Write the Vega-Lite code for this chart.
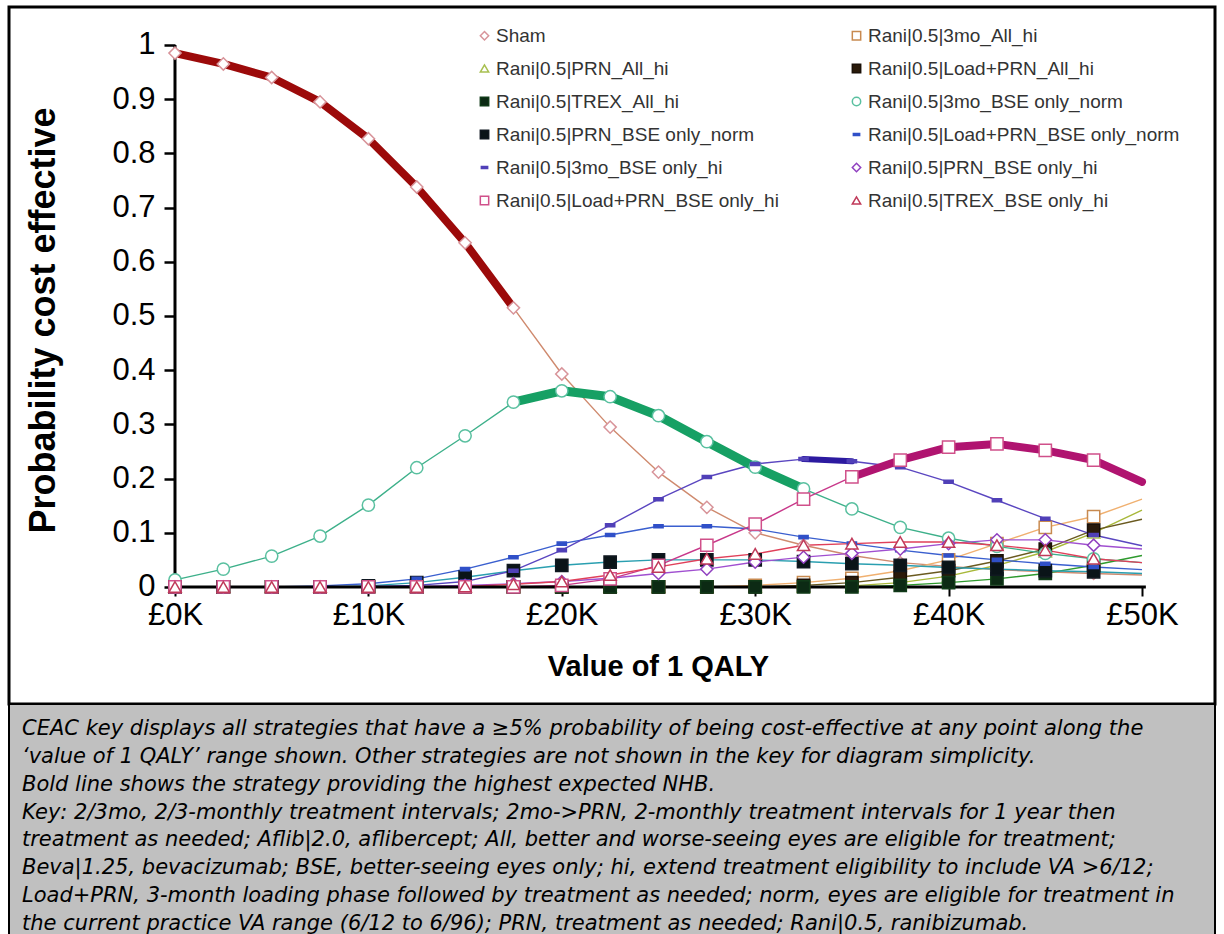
{
"$schema": "https://vega.github.io/schema/vega-lite/v6.json",
"padding": {"left": 7, "top": 5, "right": 0, "bottom": 0},
"background": "white",
"spacing": 0,
"bounds": "flush",
"config": {
  "font": "Liberation Sans",
  "axis": {"grid": false, "domain": false, "labelFont": "Liberation Sans", "titleFont": "Liberation Sans", "labelColor": "black", "titleColor": "black", "tickColor": "black", "labelFlush": false, "labelOverlap": false, "zindex": 2},
  "legend": {"zindex": 2}
},
"datasets": {
"ceac": [
{"s":"Sham","x":0,"p":0.985},{"s":"Sham","x":2500,"p":0.965},{"s":"Sham","x":5000,"p":0.94},{"s":"Sham","x":7500,"p":0.895},{"s":"Sham","x":10000,"p":0.827},{"s":"Sham","x":12500,"p":0.738},{"s":"Sham","x":15000,"p":0.635},{"s":"Sham","x":17500,"p":0.515},{"s":"Sham","x":20000,"p":0.393},{"s":"Sham","x":22500,"p":0.295},{"s":"Sham","x":25000,"p":0.212},{"s":"Sham","x":27500,"p":0.147},{"s":"Sham","x":30000,"p":0.1},{"s":"Sham","x":32500,"p":0.077},{"s":"Sham","x":35000,"p":0.058},{"s":"Sham","x":37500,"p":0.045},{"s":"Sham","x":40000,"p":0.038},{"s":"Sham","x":42500,"p":0.032},{"s":"Sham","x":45000,"p":0.028},{"s":"Sham","x":47500,"p":0.025},{"s":"Sham","x":50000,"p":0.022},
{"s":"Rani|0.5|3mo_All_hi","x":0,"p":0},{"s":"Rani|0.5|3mo_All_hi","x":2500,"p":0},{"s":"Rani|0.5|3mo_All_hi","x":5000,"p":0},{"s":"Rani|0.5|3mo_All_hi","x":7500,"p":0},{"s":"Rani|0.5|3mo_All_hi","x":10000,"p":0},{"s":"Rani|0.5|3mo_All_hi","x":12500,"p":0},{"s":"Rani|0.5|3mo_All_hi","x":15000,"p":0},{"s":"Rani|0.5|3mo_All_hi","x":17500,"p":0},{"s":"Rani|0.5|3mo_All_hi","x":20000,"p":0},{"s":"Rani|0.5|3mo_All_hi","x":22500,"p":0},{"s":"Rani|0.5|3mo_All_hi","x":25000,"p":0},{"s":"Rani|0.5|3mo_All_hi","x":27500,"p":0},{"s":"Rani|0.5|3mo_All_hi","x":30000,"p":0.003},{"s":"Rani|0.5|3mo_All_hi","x":32500,"p":0.008},{"s":"Rani|0.5|3mo_All_hi","x":35000,"p":0.016},{"s":"Rani|0.5|3mo_All_hi","x":37500,"p":0.03},{"s":"Rani|0.5|3mo_All_hi","x":40000,"p":0.05},{"s":"Rani|0.5|3mo_All_hi","x":42500,"p":0.08},{"s":"Rani|0.5|3mo_All_hi","x":45000,"p":0.11},{"s":"Rani|0.5|3mo_All_hi","x":47500,"p":0.13},{"s":"Rani|0.5|3mo_All_hi","x":50000,"p":0.162},
{"s":"Rani|0.5|PRN_All_hi","x":0,"p":0},{"s":"Rani|0.5|PRN_All_hi","x":2500,"p":0},{"s":"Rani|0.5|PRN_All_hi","x":5000,"p":0},{"s":"Rani|0.5|PRN_All_hi","x":7500,"p":0},{"s":"Rani|0.5|PRN_All_hi","x":10000,"p":0},{"s":"Rani|0.5|PRN_All_hi","x":12500,"p":0},{"s":"Rani|0.5|PRN_All_hi","x":15000,"p":0},{"s":"Rani|0.5|PRN_All_hi","x":17500,"p":0},{"s":"Rani|0.5|PRN_All_hi","x":20000,"p":0},{"s":"Rani|0.5|PRN_All_hi","x":22500,"p":0},{"s":"Rani|0.5|PRN_All_hi","x":25000,"p":0},{"s":"Rani|0.5|PRN_All_hi","x":27500,"p":0},{"s":"Rani|0.5|PRN_All_hi","x":30000,"p":0},{"s":"Rani|0.5|PRN_All_hi","x":32500,"p":0},{"s":"Rani|0.5|PRN_All_hi","x":35000,"p":0.002},{"s":"Rani|0.5|PRN_All_hi","x":37500,"p":0.008},{"s":"Rani|0.5|PRN_All_hi","x":40000,"p":0.02},{"s":"Rani|0.5|PRN_All_hi","x":42500,"p":0.04},{"s":"Rani|0.5|PRN_All_hi","x":45000,"p":0.065},{"s":"Rani|0.5|PRN_All_hi","x":47500,"p":0.1},{"s":"Rani|0.5|PRN_All_hi","x":50000,"p":0.142},
{"s":"Rani|0.5|Load+PRN_All_hi","x":0,"p":0},{"s":"Rani|0.5|Load+PRN_All_hi","x":2500,"p":0},{"s":"Rani|0.5|Load+PRN_All_hi","x":5000,"p":0},{"s":"Rani|0.5|Load+PRN_All_hi","x":7500,"p":0},{"s":"Rani|0.5|Load+PRN_All_hi","x":10000,"p":0},{"s":"Rani|0.5|Load+PRN_All_hi","x":12500,"p":0},{"s":"Rani|0.5|Load+PRN_All_hi","x":15000,"p":0},{"s":"Rani|0.5|Load+PRN_All_hi","x":17500,"p":0},{"s":"Rani|0.5|Load+PRN_All_hi","x":20000,"p":0},{"s":"Rani|0.5|Load+PRN_All_hi","x":22500,"p":0},{"s":"Rani|0.5|Load+PRN_All_hi","x":25000,"p":0},{"s":"Rani|0.5|Load+PRN_All_hi","x":27500,"p":0},{"s":"Rani|0.5|Load+PRN_All_hi","x":30000,"p":0},{"s":"Rani|0.5|Load+PRN_All_hi","x":32500,"p":0.003},{"s":"Rani|0.5|Load+PRN_All_hi","x":35000,"p":0.008},{"s":"Rani|0.5|Load+PRN_All_hi","x":37500,"p":0.018},{"s":"Rani|0.5|Load+PRN_All_hi","x":40000,"p":0.03},{"s":"Rani|0.5|Load+PRN_All_hi","x":42500,"p":0.048},{"s":"Rani|0.5|Load+PRN_All_hi","x":45000,"p":0.07},{"s":"Rani|0.5|Load+PRN_All_hi","x":47500,"p":0.105},{"s":"Rani|0.5|Load+PRN_All_hi","x":50000,"p":0.125},
{"s":"Rani|0.5|TREX_All_hi","x":0,"p":0},{"s":"Rani|0.5|TREX_All_hi","x":2500,"p":0},{"s":"Rani|0.5|TREX_All_hi","x":5000,"p":0},{"s":"Rani|0.5|TREX_All_hi","x":7500,"p":0},{"s":"Rani|0.5|TREX_All_hi","x":10000,"p":0},{"s":"Rani|0.5|TREX_All_hi","x":12500,"p":0},{"s":"Rani|0.5|TREX_All_hi","x":15000,"p":0},{"s":"Rani|0.5|TREX_All_hi","x":17500,"p":0},{"s":"Rani|0.5|TREX_All_hi","x":20000,"p":0},{"s":"Rani|0.5|TREX_All_hi","x":22500,"p":0},{"s":"Rani|0.5|TREX_All_hi","x":25000,"p":0},{"s":"Rani|0.5|TREX_All_hi","x":27500,"p":0},{"s":"Rani|0.5|TREX_All_hi","x":30000,"p":0},{"s":"Rani|0.5|TREX_All_hi","x":32500,"p":0},{"s":"Rani|0.5|TREX_All_hi","x":35000,"p":0},{"s":"Rani|0.5|TREX_All_hi","x":37500,"p":0.003},{"s":"Rani|0.5|TREX_All_hi","x":40000,"p":0.008},{"s":"Rani|0.5|TREX_All_hi","x":42500,"p":0.015},{"s":"Rani|0.5|TREX_All_hi","x":45000,"p":0.025},{"s":"Rani|0.5|TREX_All_hi","x":47500,"p":0.04},{"s":"Rani|0.5|TREX_All_hi","x":50000,"p":0.058},
{"s":"Rani|0.5|3mo_BSE only_norm","x":0,"p":0.013},{"s":"Rani|0.5|3mo_BSE only_norm","x":2500,"p":0.033},{"s":"Rani|0.5|3mo_BSE only_norm","x":5000,"p":0.057},{"s":"Rani|0.5|3mo_BSE only_norm","x":7500,"p":0.094},{"s":"Rani|0.5|3mo_BSE only_norm","x":10000,"p":0.151},{"s":"Rani|0.5|3mo_BSE only_norm","x":12500,"p":0.22},{"s":"Rani|0.5|3mo_BSE only_norm","x":15000,"p":0.279},{"s":"Rani|0.5|3mo_BSE only_norm","x":17500,"p":0.341},{"s":"Rani|0.5|3mo_BSE only_norm","x":20000,"p":0.362},{"s":"Rani|0.5|3mo_BSE only_norm","x":22500,"p":0.351},{"s":"Rani|0.5|3mo_BSE only_norm","x":25000,"p":0.316},{"s":"Rani|0.5|3mo_BSE only_norm","x":27500,"p":0.268},{"s":"Rani|0.5|3mo_BSE only_norm","x":30000,"p":0.221},{"s":"Rani|0.5|3mo_BSE only_norm","x":32500,"p":0.181},{"s":"Rani|0.5|3mo_BSE only_norm","x":35000,"p":0.144},{"s":"Rani|0.5|3mo_BSE only_norm","x":37500,"p":0.11},{"s":"Rani|0.5|3mo_BSE only_norm","x":40000,"p":0.09},{"s":"Rani|0.5|3mo_BSE only_norm","x":42500,"p":0.075},{"s":"Rani|0.5|3mo_BSE only_norm","x":45000,"p":0.062},{"s":"Rani|0.5|3mo_BSE only_norm","x":47500,"p":0.052},{"s":"Rani|0.5|3mo_BSE only_norm","x":50000,"p":0.045},
{"s":"Rani|0.5|PRN_BSE only_norm","x":0,"p":0},{"s":"Rani|0.5|PRN_BSE only_norm","x":2500,"p":0},{"s":"Rani|0.5|PRN_BSE only_norm","x":5000,"p":0},{"s":"Rani|0.5|PRN_BSE only_norm","x":7500,"p":0},{"s":"Rani|0.5|PRN_BSE only_norm","x":10000,"p":0.002},{"s":"Rani|0.5|PRN_BSE only_norm","x":12500,"p":0.008},{"s":"Rani|0.5|PRN_BSE only_norm","x":15000,"p":0.018},{"s":"Rani|0.5|PRN_BSE only_norm","x":17500,"p":0.03},{"s":"Rani|0.5|PRN_BSE only_norm","x":20000,"p":0.04},{"s":"Rani|0.5|PRN_BSE only_norm","x":22500,"p":0.046},{"s":"Rani|0.5|PRN_BSE only_norm","x":25000,"p":0.05},{"s":"Rani|0.5|PRN_BSE only_norm","x":27500,"p":0.05},{"s":"Rani|0.5|PRN_BSE only_norm","x":30000,"p":0.05},{"s":"Rani|0.5|PRN_BSE only_norm","x":32500,"p":0.047},{"s":"Rani|0.5|PRN_BSE only_norm","x":35000,"p":0.043},{"s":"Rani|0.5|PRN_BSE only_norm","x":37500,"p":0.04},{"s":"Rani|0.5|PRN_BSE only_norm","x":40000,"p":0.036},{"s":"Rani|0.5|PRN_BSE only_norm","x":42500,"p":0.033},{"s":"Rani|0.5|PRN_BSE only_norm","x":45000,"p":0.03},{"s":"Rani|0.5|PRN_BSE only_norm","x":47500,"p":0.028},{"s":"Rani|0.5|PRN_BSE only_norm","x":50000,"p":0.025},
{"s":"Rani|0.5|Load+PRN_BSE only_norm","x":0,"p":0},{"s":"Rani|0.5|Load+PRN_BSE only_norm","x":2500,"p":0},{"s":"Rani|0.5|Load+PRN_BSE only_norm","x":5000,"p":0},{"s":"Rani|0.5|Load+PRN_BSE only_norm","x":7500,"p":0.002},{"s":"Rani|0.5|Load+PRN_BSE only_norm","x":10000,"p":0.006},{"s":"Rani|0.5|Load+PRN_BSE only_norm","x":12500,"p":0.015},{"s":"Rani|0.5|Load+PRN_BSE only_norm","x":15000,"p":0.033},{"s":"Rani|0.5|Load+PRN_BSE only_norm","x":17500,"p":0.055},{"s":"Rani|0.5|Load+PRN_BSE only_norm","x":20000,"p":0.08},{"s":"Rani|0.5|Load+PRN_BSE only_norm","x":22500,"p":0.096},{"s":"Rani|0.5|Load+PRN_BSE only_norm","x":25000,"p":0.112},{"s":"Rani|0.5|Load+PRN_BSE only_norm","x":27500,"p":0.112},{"s":"Rani|0.5|Load+PRN_BSE only_norm","x":30000,"p":0.107},{"s":"Rani|0.5|Load+PRN_BSE only_norm","x":32500,"p":0.092},{"s":"Rani|0.5|Load+PRN_BSE only_norm","x":35000,"p":0.08},{"s":"Rani|0.5|Load+PRN_BSE only_norm","x":37500,"p":0.068},{"s":"Rani|0.5|Load+PRN_BSE only_norm","x":40000,"p":0.058},{"s":"Rani|0.5|Load+PRN_BSE only_norm","x":42500,"p":0.05},{"s":"Rani|0.5|Load+PRN_BSE only_norm","x":45000,"p":0.043},{"s":"Rani|0.5|Load+PRN_BSE only_norm","x":47500,"p":0.037},{"s":"Rani|0.5|Load+PRN_BSE only_norm","x":50000,"p":0.032},
{"s":"Rani|0.5|3mo_BSE only_hi","x":0,"p":0},{"s":"Rani|0.5|3mo_BSE only_hi","x":2500,"p":0},{"s":"Rani|0.5|3mo_BSE only_hi","x":5000,"p":0},{"s":"Rani|0.5|3mo_BSE only_hi","x":7500,"p":0},{"s":"Rani|0.5|3mo_BSE only_hi","x":10000,"p":0.001},{"s":"Rani|0.5|3mo_BSE only_hi","x":12500,"p":0.003},{"s":"Rani|0.5|3mo_BSE only_hi","x":15000,"p":0.01},{"s":"Rani|0.5|3mo_BSE only_hi","x":17500,"p":0.03},{"s":"Rani|0.5|3mo_BSE only_hi","x":20000,"p":0.068},{"s":"Rani|0.5|3mo_BSE only_hi","x":22500,"p":0.114},{"s":"Rani|0.5|3mo_BSE only_hi","x":25000,"p":0.162},{"s":"Rani|0.5|3mo_BSE only_hi","x":27500,"p":0.203},{"s":"Rani|0.5|3mo_BSE only_hi","x":30000,"p":0.227},{"s":"Rani|0.5|3mo_BSE only_hi","x":32500,"p":0.236},{"s":"Rani|0.5|3mo_BSE only_hi","x":35000,"p":0.232},{"s":"Rani|0.5|3mo_BSE only_hi","x":37500,"p":0.221},{"s":"Rani|0.5|3mo_BSE only_hi","x":40000,"p":0.194},{"s":"Rani|0.5|3mo_BSE only_hi","x":42500,"p":0.16},{"s":"Rani|0.5|3mo_BSE only_hi","x":45000,"p":0.126},{"s":"Rani|0.5|3mo_BSE only_hi","x":47500,"p":0.096},{"s":"Rani|0.5|3mo_BSE only_hi","x":50000,"p":0.076},
{"s":"Rani|0.5|PRN_BSE only_hi","x":0,"p":0},{"s":"Rani|0.5|PRN_BSE only_hi","x":2500,"p":0},{"s":"Rani|0.5|PRN_BSE only_hi","x":5000,"p":0},{"s":"Rani|0.5|PRN_BSE only_hi","x":7500,"p":0},{"s":"Rani|0.5|PRN_BSE only_hi","x":10000,"p":0},{"s":"Rani|0.5|PRN_BSE only_hi","x":12500,"p":0.001},{"s":"Rani|0.5|PRN_BSE only_hi","x":15000,"p":0.003},{"s":"Rani|0.5|PRN_BSE only_hi","x":17500,"p":0.006},{"s":"Rani|0.5|PRN_BSE only_hi","x":20000,"p":0.01},{"s":"Rani|0.5|PRN_BSE only_hi","x":22500,"p":0.016},{"s":"Rani|0.5|PRN_BSE only_hi","x":25000,"p":0.025},{"s":"Rani|0.5|PRN_BSE only_hi","x":27500,"p":0.033},{"s":"Rani|0.5|PRN_BSE only_hi","x":30000,"p":0.046},{"s":"Rani|0.5|PRN_BSE only_hi","x":32500,"p":0.055},{"s":"Rani|0.5|PRN_BSE only_hi","x":35000,"p":0.062},{"s":"Rani|0.5|PRN_BSE only_hi","x":37500,"p":0.07},{"s":"Rani|0.5|PRN_BSE only_hi","x":40000,"p":0.08},{"s":"Rani|0.5|PRN_BSE only_hi","x":42500,"p":0.087},{"s":"Rani|0.5|PRN_BSE only_hi","x":45000,"p":0.087},{"s":"Rani|0.5|PRN_BSE only_hi","x":47500,"p":0.077},{"s":"Rani|0.5|PRN_BSE only_hi","x":50000,"p":0.07},
{"s":"Rani|0.5|Load+PRN_BSE only_hi","x":0,"p":0},{"s":"Rani|0.5|Load+PRN_BSE only_hi","x":2500,"p":0},{"s":"Rani|0.5|Load+PRN_BSE only_hi","x":5000,"p":0},{"s":"Rani|0.5|Load+PRN_BSE only_hi","x":7500,"p":0},{"s":"Rani|0.5|Load+PRN_BSE only_hi","x":10000,"p":0},{"s":"Rani|0.5|Load+PRN_BSE only_hi","x":12500,"p":0},{"s":"Rani|0.5|Load+PRN_BSE only_hi","x":15000,"p":0},{"s":"Rani|0.5|Load+PRN_BSE only_hi","x":17500,"p":0},{"s":"Rani|0.5|Load+PRN_BSE only_hi","x":20000,"p":0.003},{"s":"Rani|0.5|Load+PRN_BSE only_hi","x":22500,"p":0.015},{"s":"Rani|0.5|Load+PRN_BSE only_hi","x":25000,"p":0.04},{"s":"Rani|0.5|Load+PRN_BSE only_hi","x":27500,"p":0.077},{"s":"Rani|0.5|Load+PRN_BSE only_hi","x":30000,"p":0.116},{"s":"Rani|0.5|Load+PRN_BSE only_hi","x":32500,"p":0.162},{"s":"Rani|0.5|Load+PRN_BSE only_hi","x":35000,"p":0.203},{"s":"Rani|0.5|Load+PRN_BSE only_hi","x":37500,"p":0.234},{"s":"Rani|0.5|Load+PRN_BSE only_hi","x":40000,"p":0.258},{"s":"Rani|0.5|Load+PRN_BSE only_hi","x":42500,"p":0.264},{"s":"Rani|0.5|Load+PRN_BSE only_hi","x":45000,"p":0.252},{"s":"Rani|0.5|Load+PRN_BSE only_hi","x":47500,"p":0.234},{"s":"Rani|0.5|Load+PRN_BSE only_hi","x":50000,"p":0.194},
{"s":"Rani|0.5|TREX_BSE only_hi","x":0,"p":0},{"s":"Rani|0.5|TREX_BSE only_hi","x":2500,"p":0},{"s":"Rani|0.5|TREX_BSE only_hi","x":5000,"p":0},{"s":"Rani|0.5|TREX_BSE only_hi","x":7500,"p":0},{"s":"Rani|0.5|TREX_BSE only_hi","x":10000,"p":0},{"s":"Rani|0.5|TREX_BSE only_hi","x":12500,"p":0},{"s":"Rani|0.5|TREX_BSE only_hi","x":15000,"p":0.001},{"s":"Rani|0.5|TREX_BSE only_hi","x":17500,"p":0.005},{"s":"Rani|0.5|TREX_BSE only_hi","x":20000,"p":0.01},{"s":"Rani|0.5|TREX_BSE only_hi","x":22500,"p":0.022},{"s":"Rani|0.5|TREX_BSE only_hi","x":25000,"p":0.037},{"s":"Rani|0.5|TREX_BSE only_hi","x":27500,"p":0.052},{"s":"Rani|0.5|TREX_BSE only_hi","x":30000,"p":0.061},{"s":"Rani|0.5|TREX_BSE only_hi","x":32500,"p":0.077},{"s":"Rani|0.5|TREX_BSE only_hi","x":35000,"p":0.08},{"s":"Rani|0.5|TREX_BSE only_hi","x":37500,"p":0.083},{"s":"Rani|0.5|TREX_BSE only_hi","x":40000,"p":0.083},{"s":"Rani|0.5|TREX_BSE only_hi","x":42500,"p":0.077},{"s":"Rani|0.5|TREX_BSE only_hi","x":45000,"p":0.068},{"s":"Rani|0.5|TREX_BSE only_hi","x":47500,"p":0.052},{"s":"Rani|0.5|TREX_BSE only_hi","x":50000,"p":0.045}
],
"notes": [
{"line":1,"text":"CEAC key displays all strategies that have a ≥5% probability of being cost-effective at any point along the"},
{"line":2,"text":"‘value of 1 QALY’ range shown. Other strategies are not shown in the key for diagram simplicity."},
{"line":3,"text":"Bold line shows the strategy providing the highest expected NHB."},
{"line":4,"text":"Key: 2/3mo, 2/3-monthly treatment intervals; 2mo->PRN, 2-monthly treatment intervals for 1 year then"},
{"line":5,"text":"treatment as needed; Aflib|2.0, aflibercept; All, better and worse-seeing eyes are eligible for treatment;"},
{"line":6,"text":"Beva|1.25, bevacizumab; BSE, better-seeing eyes only; hi, extend treatment eligibility to include VA >6/12;"},
{"line":7,"text":"Load+PRN, 3-month loading phase followed by treatment as needed; norm, eyes are eligible for treatment in"},
{"line":8,"text":"the current practice VA range (6/12 to 6/96); PRN, treatment as needed; Rani|0.5, ranibizumab."}
]
},
"vconcat": [
{
  "width": 1206, "height": 697,
  "view": {"stroke": "black", "strokeWidth": 3},
  "data": {"name": "ceac"},
  "layer": [
    {
      "mark": {"type": "line", "strokeWidth": 1.4, "strokeJoin": "round"},
      "encoding": {
        "x": {"field": "x", "type": "quantitative", "scale": {"domain": [-8583, 53775], "nice": false, "zero": false},
          "axis": {"values": [0, 10000, 20000, 30000, 40000, 50000], "offset": -117, "labelExpr": "'£' + (datum.value / 1000) + 'K'", "labelFontSize": 31, "labelPadding": 4, "tickSize": 9, "tickWidth": 2, "title": "Value of 1 QALY", "titleFontSize": 29, "titleFontWeight": "bold", "titleX": 649, "titleY": 88, "titleAlign": "center", "titleBaseline": "alphabetic"}},
        "y": {"field": "p", "type": "quantitative", "scale": {"domain": [-0.2159, 1.0701], "nice": false, "zero": false},
          "axis": {"values": [0, 0.1, 0.2, 0.3, 0.4, 0.5, 0.6, 0.7, 0.8, 0.9, 1], "offset": -166, "format": "~g", "labelFontSize": 31, "labelPadding": 9, "tickSize": 11, "tickWidth": 2.5, "title": "Probability cost effective", "titleFontSize": 36, "titleFontWeight": "bold", "titleX": -132, "titleY": 313, "titleAngle": 270, "titleAlign": "center", "titleBaseline": "middle"}},
        "color": {"field": "s", "type": "nominal", "legend": null,
          "scale": {"domain": ["Rani|0.5|TREX_BSE only_hi", "Rani|0.5|Load+PRN_BSE only_hi", "Rani|0.5|PRN_BSE only_hi", "Rani|0.5|3mo_BSE only_hi", "Rani|0.5|Load+PRN_BSE only_norm", "Rani|0.5|PRN_BSE only_norm", "Rani|0.5|3mo_BSE only_norm", "Rani|0.5|TREX_All_hi", "Rani|0.5|Load+PRN_All_hi", "Rani|0.5|PRN_All_hi", "Rani|0.5|3mo_All_hi", "Sham"],
            "range": ["#e0405a", "#c8388a", "#a04fd0", "#5a46c0", "#3a5fcf", "#2a9fb0", "#3db08a", "#2e9a2e", "#6a5a20", "#a8b83a", "#f0b070", "#cf8a6e"]}}
      }
    },
    {
      "data": {"values": [{}]},
      "mark": {"type": "rule", "color": "black", "strokeWidth": 3},
      "encoding": {
        "x": {"datum": 0, "type": "quantitative"},
        "x2": {"datum": 50200},
        "y": {"datum": 0, "type": "quantitative"}
      }
    },
    {
      "data": {"values": [{}]},
      "mark": {"type": "rule", "color": "black", "strokeWidth": 3},
      "encoding": {
        "x": {"datum": 0, "type": "quantitative"},
        "y": {"datum": 0, "type": "quantitative"},
        "y2": {"datum": 1}
      }
    },
    {
      "transform": [{"filter": "datum.s == 'Sham' && datum.x <= 17500"}],
      "mark": {"type": "line", "strokeWidth": 8, "color": "#9c0a0a", "strokeCap": "round", "strokeJoin": "round"},
      "encoding": {
        "x": {"field": "x", "type": "quantitative"},
        "y": {"field": "p", "type": "quantitative"}
      }
    },
    {
      "transform": [{"filter": "datum.s == 'Rani|0.5|3mo_BSE only_norm' && datum.x >= 17500 && datum.x <= 32500"}],
      "mark": {"type": "line", "strokeWidth": 9, "color": "#16a064", "strokeCap": "round", "strokeJoin": "round"},
      "encoding": {
        "x": {"field": "x", "type": "quantitative"},
        "y": {"field": "p", "type": "quantitative"}
      }
    },
    {
      "transform": [{"filter": "datum.s == 'Rani|0.5|3mo_BSE only_hi' && datum.x >= 32500 && datum.x <= 35000"}],
      "mark": {"type": "line", "strokeWidth": 6, "color": "#2c1aa0", "strokeCap": "round", "strokeJoin": "round"},
      "encoding": {
        "x": {"field": "x", "type": "quantitative"},
        "y": {"field": "p", "type": "quantitative"}
      }
    },
    {
      "transform": [{"filter": "datum.s == 'Rani|0.5|Load+PRN_BSE only_hi' && datum.x >= 35000"}],
      "mark": {"type": "line", "strokeWidth": 8, "color": "#b01470", "strokeCap": "round", "strokeJoin": "round"},
      "encoding": {
        "x": {"field": "x", "type": "quantitative"},
        "y": {"field": "p", "type": "quantitative"}
      }
    },
    {
      "transform": [{"filter": "datum.x < 50000"}],
      "mark": {"type": "point", "size": 150, "strokeWidth": 1.5, "opacity": 1},
      "encoding": {
        "x": {"field": "x", "type": "quantitative"},
        "y": {"field": "p", "type": "quantitative"},
        "shape": {"field": "s", "type": "nominal", "title": null,
          "scale": {"domain": ["Sham", "Rani|0.5|PRN_All_hi", "Rani|0.5|TREX_All_hi", "Rani|0.5|PRN_BSE only_norm", "Rani|0.5|3mo_BSE only_hi", "Rani|0.5|Load+PRN_BSE only_hi", "Rani|0.5|3mo_All_hi", "Rani|0.5|Load+PRN_All_hi", "Rani|0.5|3mo_BSE only_norm", "Rani|0.5|Load+PRN_BSE only_norm", "Rani|0.5|PRN_BSE only_hi", "Rani|0.5|TREX_BSE only_hi"],
            "range": ["diamond", "triangle-up", "square", "square", "M-0.75,-0.25L0.75,-0.25L0.75,0.25L-0.75,0.25Z", "square", "square", "square", "circle", "M-0.75,-0.25L0.75,-0.25L0.75,0.25L-0.75,0.25Z", "diamond", "triangle-up"]},
          "legend": {"orient": "none", "legendX": 466, "legendY": 19, "columns": 2, "columnPadding": 68, "rowPadding": 13, "labelFontSize": 19, "labelFont": "Liberation Sans", "labelColor": "#333333", "labelOffset": 2, "symbolSize": 70, "symbolStrokeWidth": 1.5, "labelLimit": 500, "padding": 0}},
        "stroke": {"field": "s", "type": "nominal", "title": null,
          "scale": {"domain": ["Sham", "Rani|0.5|PRN_All_hi", "Rani|0.5|TREX_All_hi", "Rani|0.5|PRN_BSE only_norm", "Rani|0.5|3mo_BSE only_hi", "Rani|0.5|Load+PRN_BSE only_hi", "Rani|0.5|3mo_All_hi", "Rani|0.5|Load+PRN_All_hi", "Rani|0.5|3mo_BSE only_norm", "Rani|0.5|Load+PRN_BSE only_norm", "Rani|0.5|PRN_BSE only_hi", "Rani|0.5|TREX_BSE only_hi"],
            "range": ["#d8949a", "#a8c050", "#103a18", "#101820", "#5040b8", "#d0508a", "#c88a50", "#1a1008", "#5ac0a0", "#3050c8", "#9040c0", "#c03a5a"]},
          "legend": {"orient": "none", "legendX": 466, "legendY": 19, "columns": 2, "columnPadding": 68, "rowPadding": 13, "labelFontSize": 19, "labelFont": "Liberation Sans", "labelColor": "#333333", "labelOffset": 2, "symbolSize": 70, "symbolStrokeWidth": 1.5, "labelLimit": 500, "padding": 0}},
        "fill": {"field": "s", "type": "nominal", "title": null,
          "scale": {"domain": ["Sham", "Rani|0.5|PRN_All_hi", "Rani|0.5|TREX_All_hi", "Rani|0.5|PRN_BSE only_norm", "Rani|0.5|3mo_BSE only_hi", "Rani|0.5|Load+PRN_BSE only_hi", "Rani|0.5|3mo_All_hi", "Rani|0.5|Load+PRN_All_hi", "Rani|0.5|3mo_BSE only_norm", "Rani|0.5|Load+PRN_BSE only_norm", "Rani|0.5|PRN_BSE only_hi", "Rani|0.5|TREX_BSE only_hi"],
            "range": ["white", "white", "#0c2a14", "#0a1418", "#5040b8", "white", "white", "#2a1a0a", "white", "#3050c8", "white", "white"]},
          "legend": {"orient": "none", "legendX": 466, "legendY": 19, "columns": 2, "columnPadding": 68, "rowPadding": 13, "labelFontSize": 19, "labelFont": "Liberation Sans", "labelColor": "#333333", "labelOffset": 2, "symbolSize": 70, "symbolStrokeWidth": 1.5, "labelLimit": 500, "padding": 0}}
      }
    }
  ]
},
{
  "width": 1206, "height": 240,
  "view": {"fill": "#c0c0c0", "stroke": "black", "strokeWidth": 2},
  "data": {"name": "notes"},
  "mark": {"type": "text", "align": "left", "baseline": "middle", "fontStyle": "italic", "fontSize": 21, "font": "DejaVu Sans", "color": "black", "dx": 13},
  "encoding": {
    "x": {"datum": 0, "type": "quantitative", "scale": {"domain": [0, 1], "nice": false, "zero": false}, "axis": null},
    "y": {"field": "line", "type": "quantitative", "scale": {"domain": [0.1026, 8.718], "nice": false, "zero": false, "reverse": true}, "axis": null},
    "text": {"field": "text"}
  }
}
]
}
